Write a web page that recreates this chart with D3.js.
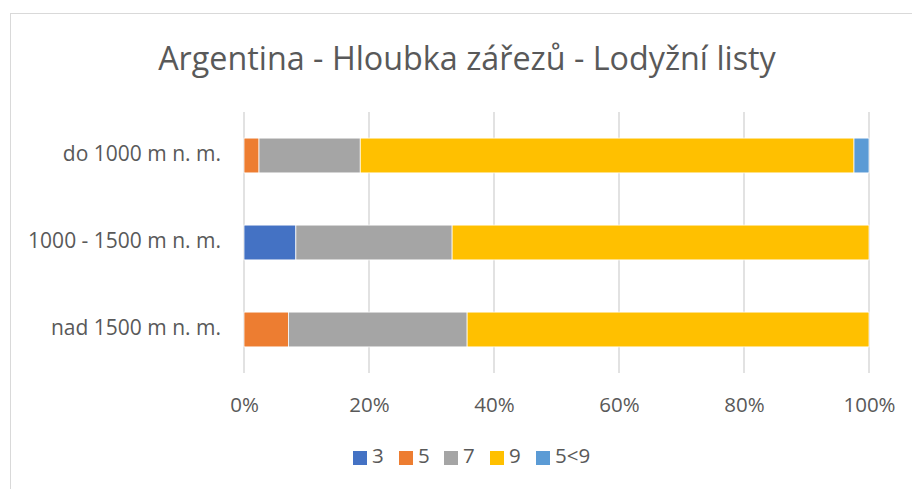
<!DOCTYPE html>
<html>
<head>
<meta charset="utf-8">
<script src="https://cdn.jsdelivr.net/npm/d3@7"></script>
<style>
  body { margin: 0; background: #fff; }
  text { font-family: "Open Sans", Lato, sans-serif; fill: #595959; }
</style>
</head>
<body>
<div id="chart"></div>
<script>
var categories = ["do 1000 m n. m.", "1000 - 1500 m n. m.", "nad 1500 m n. m."]
var seriesNames = ["3", "5", "7", "9", "5<9"]
var seriesColors = ["#4472c4", "#ed7d31", "#a5a5a5", "#ffc000", "#5b9bd5"]

// share per category, in %
var s3 = [0, 8.3, 0]
var s5 = [2.4, 0, 7.1]
var s7 = [16.2, 25, 28.6]
var s9 = [79.0, 66.7, 64.3]
var s59 = [2.4, 0, 0]

var tickValues = [0, 20, 40, 60, 80, 100]

var W = 912, H = 489
var svg = d3.select("#chart").append("svg")
  .attr("width", W)
  .attr("height", H)

// chart frame
svg.append("rect")
  .attr("x", 10.5).attr("y", 13.5)
  .attr("width", W).attr("height", H)
  .attr("fill", "#fff")
  .attr("stroke", "#d9d9d9")

svg.append("text")
  .attr("x", 467).attr("y", 61)
  .attr("text-anchor", "middle")
  .attr("dominant-baseline", "middle")
  .style("font-size", "32.3px")
  .text("Argentina - Hloubka zářezů - Lodyžní listy")

var margin = {left: 244, right: 43, top: 112, bottom: 116}
var x = d3.scaleLinear().domain([0, 100]).range([margin.left, W - margin.right])
var y = d3.scaleBand().domain(categories).range([margin.top, H - margin.bottom]).paddingInner(0.6).paddingOuter(0.3)

// gridlines
svg.append("g").selectAll("line")
  .data(tickValues)
  .enter().append("line")
  .attr("x1", function (d) { return x(d) })
  .attr("x2", function (d) { return x(d) })
  .attr("y1", margin.top)
  .attr("y2", H - margin.bottom)
  .attr("stroke", "#d9d9d9")
  .attr("stroke-width", 1.5)

// stacked bars
var rows = categories.map(function (c, i) {
  return {cat: c, "3": s3[i], "5": s5[i], "7": s7[i], "9": s9[i], "5<9": s59[i]}
})
var stack = d3.stack().keys(seriesNames)(rows)

svg.append("g").selectAll("g")
  .data(stack)
  .enter().append("g")
  .attr("fill", function (d, i) { return seriesColors[i] })
  .selectAll("rect")
  .data(function (d) { return d })
  .enter().append("rect")
  .attr("x", function (d) { return x(d[0]) })
  .attr("width", function (d) { return x(d[1]) - x(d[0]) })
  .attr("y", function (d) { return y(d.data.cat) })
  .attr("height", y.bandwidth())
  .attr("stroke", "#fff")
  .attr("stroke-width", 0.75)

// x axis labels
var xAxis = d3.axisBottom(x).tickValues(tickValues).tickSize(0).tickPadding(0)
  .tickFormat(function (d) { return d + "%" })
var gx = svg.append("g")
  .attr("transform", "translate(0," + (H - margin.bottom) + ")")
  .call(xAxis)
gx.select(".domain").remove()
gx.selectAll("text")
  .attr("y", 34)
  .attr("dy", null)
  .attr("dominant-baseline", "middle")
  .style("font-size", "20.5px")
gx.attr("font-family", null)

// category labels
var yAxis = d3.axisLeft(y).tickSize(0).tickPadding(0)
var gy = svg.append("g")
  .attr("transform", "translate(" + 221 + ",0)")
  .call(yAxis)
gy.select(".domain").remove()
gy.selectAll("text")
  .attr("dy", null)
  .attr("dominant-baseline", "middle")
  .style("font-size", "21px")
gy.attr("font-family", null)

// legend
var legendX = [353, 399, 444, 490, 536]
var leg = svg.append("g").selectAll("g")
  .data(seriesNames)
  .enter().append("g")
  .attr("transform", function (d, i) { return "translate(" + legendX[i] + ",451)" })
leg.append("rect")
  .attr("width", 14).attr("height", 14)
  .attr("fill", function (d, i) { return seriesColors[i] })
leg.append("text")
  .attr("x", 19).attr("y", 7)
  .attr("dominant-baseline", "middle")
  .style("font-size", "20.5px")
  .text(function (d) { return d })
</script>
</body>
</html>
